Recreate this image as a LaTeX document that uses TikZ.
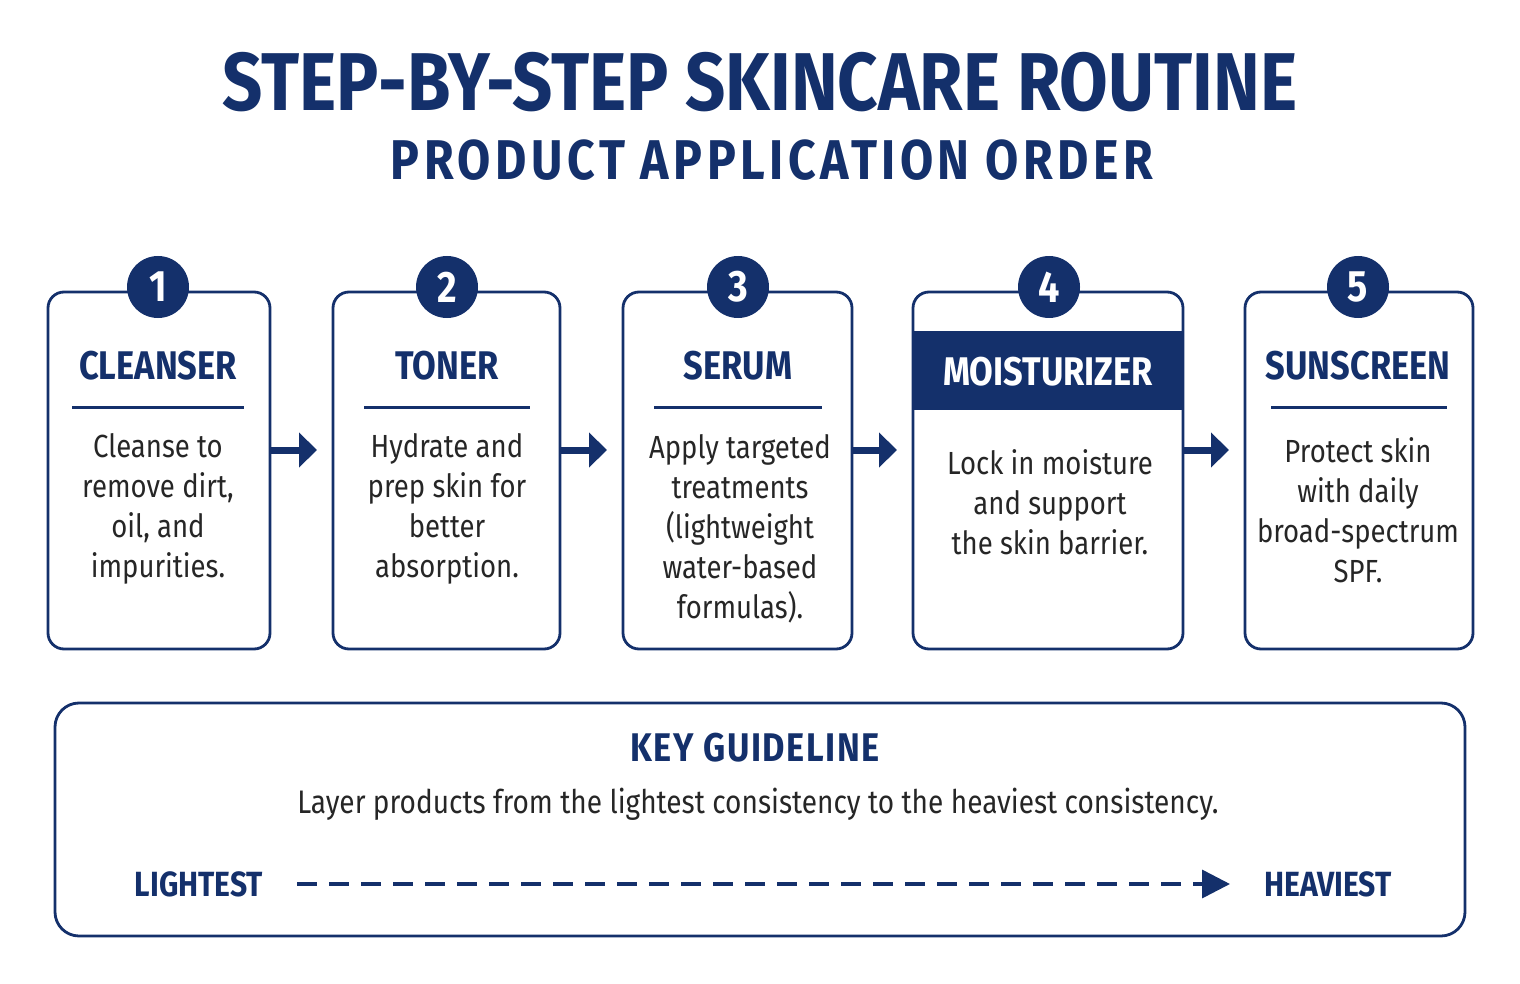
\documentclass[tikz,border=0pt]{standalone}
\usepackage{fontspec}
\setmainfont{Fira Sans}[FakeStretch=0.86]
\usetikzlibrary{arrows.meta}
\definecolor{navy}{HTML}{14306B}
\begin{document}
\begin{tikzpicture}[x=0.5pt,y=-0.5pt,
 box/.style={draw=navy,line width=1.4pt,rounded corners=8pt},
 num/.style={circle,fill=navy,minimum size=31pt,inner sep=0pt,text=white,font=\fontsize{22}{22}\selectfont\bfseries},
 ttl/.style={text=navy,font=\fontsize{20}{20}\selectfont\bfseries},
 body/.style={text=black!85,font=\fontsize{16}{20}\selectfont,align=center},
 arr/.style={-{Triangle[length=9pt,width=17pt]},navy,line width=3.5pt}]
\useasboundingbox (0,0) rectangle (1520,984);
\node[text=navy,font=\fontsize{41}{41}\selectfont\bfseries] (t1) at (760,82) {STEP-BY-STEP SKINCARE ROUTINE};
\node[text=navy,font=\fontsize{28}{28}\selectfont\bfseries\addfontfeatures{LetterSpace=8}] (t2) at (772,160) {PRODUCT APPLICATION ORDER};
% boxes
\foreach \n/\a/\b/\c in {1/48/270/158,2/333/560/447,3/623/852/738,4/913/1183/1049,5/1245/1473/1358}{
  \draw[box] (\a,292) rectangle (\b,649);
  \coordinate (L\n) at (\a,450); \coordinate (R\n) at (\b,450);
}
\fill[navy] (913.7,331) rectangle (1182.3,410);
\foreach \n/\c in {1/158,2/447,3/738,4/1049,5/1358}{
  \node[num] (c\n) at (\c,287) {\n};
}
\node[ttl] (h1) at (158,366) {CLEANSER};
\node[ttl] (h2) at (447,366) {TONER};
\node[ttl] (h3) at (738,366) {SERUM};
\node[ttl,text=white] (h4) at (1048,372) {MOISTURIZER};
\node[ttl] (h5) at (1358,366) {SUNSCREEN};
\foreach \a/\b in {72/244,364/530,654/822,1271/1447}{\draw[navy,line width=1.5pt] (\a,407)--(\b,407);}
\node[body] (b1) at (158,509) {Cleanse to\\remove dirt,\\oil, and\\impurities.};
\node[body] (b2) at (447,509) {Hydrate and\\prep skin for\\better\\absorption.};
\node[body] (b3) at (740,529) {Apply targeted\\treatments\\(lightweight\\water-based\\formulas).};
\node[body] (b4) at (1050,502) {Lock in moisture\\and support\\the skin barrier.};
\node[body] (b5) at (1358,510) {Protect skin\\with daily\\broad-spectrum\\SPF.};
\draw[arr] (R1) -- ([xshift=-8]L2);
\draw[arr] (R2) -- ([xshift=-8]L3);
\draw[arr] (R3) -- ([xshift=-8]L4);
\draw[arr] (R4) -- ([xshift=-8]L5);
% guideline
\draw[box,rounded corners=12pt] (55,703) rectangle (1465,936);
\node[text=navy,font=\fontsize{20}{20}\selectfont\bfseries\addfontfeatures{LetterSpace=4}] (k) at (755,748) {KEY GUIDELINE};
\node[text=black!85,font=\fontsize{16.3}{16}\selectfont] (s) at (758,804) {Layer products from the lightest consistency to the heaviest consistency.};
\node[text=navy,font=\fontsize{17.5}{17}\selectfont\bfseries] (lt) at (199,884) {LIGHTEST};
\node[text=navy,font=\fontsize{17.5}{17}\selectfont\bfseries] (hv) at (1328,884) {HEAVIEST};
\draw[navy,line width=1.8pt,dash pattern=on 10pt off 6pt,-{Triangle[length=14pt,width=14pt]}] (297,884) -- (1230,884);
\end{tikzpicture}
\end{document}
